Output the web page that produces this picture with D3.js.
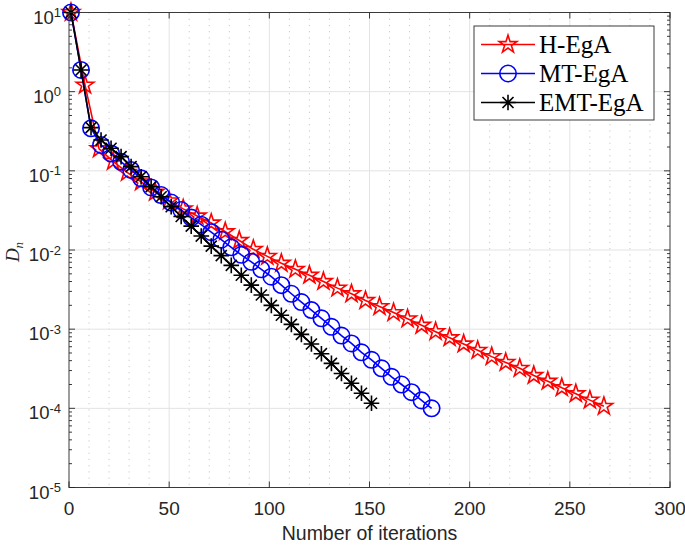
<!DOCTYPE html>
<html>
<head>
<meta charset="utf-8">
<script src="https://cdn.jsdelivr.net/npm/d3@7"></script>
<style>
  body { margin: 0; background: #fff; }
  svg { display: block; }
</style>
</head>
<body>
<div id="chart"></div>
<script>
// データ (反復回数と D_n)
const hIter = [1, 8, 15, 22, 29, 36, 43, 50, 57, 64, 71, 78, 85, 92, 99, 106, 113, 120, 127, 134,
  141, 148, 155, 162, 169, 176, 183, 190, 197, 204, 211, 218, 225, 232, 239, 246, 253, 260, 267];
const hVal = [10, 1.21, 0.19, 0.132, 0.0955, 0.0724, 0.0537, 0.0417, 0.0331, 0.0269, 0.0219, 0.0170,
  0.0132, 0.0102, 8.3e-3, 6.8e-3, 5.7e-3, 4.8e-3, 4.0e-3, 3.3e-3, 2.8e-3, 2.3e-3, 1.93e-3, 1.62e-3,
  1.35e-3, 1.12e-3, 9.3e-4, 7.8e-4, 6.5e-4, 5.4e-4, 4.5e-4, 3.8e-4, 3.2e-4, 2.6e-4, 2.2e-4,
  1.82e-4, 1.53e-4, 1.27e-4, 1.06e-4];

const mtIter = [1, 6, 11, 16, 21, 26, 31, 36, 41, 46, 51, 56, 61, 66, 71, 76, 81, 86, 91, 96,
  101, 106, 111, 116, 121, 126, 131, 136, 141, 146, 151, 156, 161, 166, 171, 176, 181];
const mtVal = [10, 1.88, 0.344, 0.212, 0.166, 0.130, 0.1026, 0.0805, 0.0617, 0.0495, 0.0398, 0.0320,
  0.0257, 0.0209, 0.0168, 0.0135, 0.0108, 8.7e-3, 7.1e-3, 5.7e-3, 4.6e-3, 3.6e-3, 2.8e-3, 2.2e-3,
  1.74e-3, 1.37e-3, 1.07e-3, 8.3e-4, 6.6e-4, 5.1e-4, 4.1e-4, 3.2e-4, 2.5e-4, 2.0e-4, 1.6e-4,
  1.26e-4, 1.0e-4];

const emtIter = [1, 6, 11, 16, 21, 26, 31, 36, 41, 46, 51, 56, 61, 66, 71, 76, 81, 86, 91, 96,
  101, 106, 111, 116, 121, 126, 131, 136, 141, 146, 151];
const emtVal = [10, 1.88, 0.351, 0.245, 0.193, 0.151, 0.113, 0.0843, 0.0631, 0.0471, 0.0352, 0.0265,
  0.020, 0.0150, 0.0112, 8.5e-3, 6.4e-3, 4.8e-3, 3.6e-3, 2.7e-3, 2.0e-3, 1.5e-3, 1.15e-3, 8.6e-4,
  6.5e-4, 4.9e-4, 3.7e-4, 2.75e-4, 2.07e-4, 1.55e-4, 1.16e-4];

const xTicks = [0, 50, 100, 150, 200, 250, 300];
const yExps = [-5, -4, -3, -2, -1, 0, 1];
const legendNames = ["H-EgA", "MT-EgA", "EMT-EgA"];

// 描画領域
const width = 685;
const height = 548;
const L = 69, R = 670, T = 12.5, B = 487.5;
const axisColor = "#262626";

const svg = d3.select("#chart").append("svg")
    .attr("width", width)
    .attr("height", height);
svg.append("rect").attr("width", width).attr("height", height).attr("fill", "#fff");

const x = d3.scaleLinear().domain([0, 300]).range([L, R]);
const y = d3.scaleLog().domain([1e-5, 10]).range([B, T]);

// グリッド
const minorX = d3.range(10, 300, 10).filter(v => v % 50 !== 0);
svg.append("g").selectAll("line").data(minorX).enter().append("line")
    .attr("x1", d => x(d)).attr("x2", d => x(d))
    .attr("y1", T).attr("y2", B)
    .attr("stroke", "#c8c8c8").attr("stroke-width", 1)
    .attr("stroke-dasharray", "1.2,5");
svg.append("g").selectAll("line").data(xTicks.slice(1, -1)).enter().append("line")
    .attr("x1", d => x(d)).attr("x2", d => x(d))
    .attr("y1", T).attr("y2", B)
    .attr("stroke", "#e3e3e3").attr("stroke-width", 1);
svg.append("g").selectAll("line").data(yExps.slice(1, -1)).enter().append("line")
    .attr("x1", L).attr("x2", R)
    .attr("y1", d => y(Math.pow(10, d))).attr("y2", d => y(Math.pow(10, d)))
    .attr("stroke", "#e3e3e3").attr("stroke-width", 1);

// 系列
const series = [
  {iter: hIter, val: hVal, color: "#ff0000", marker: "star"},
  {iter: mtIter, val: mtVal, color: "#0000ff", marker: "circle"},
  {iter: emtIter, val: emtVal, color: "#000000", marker: "asterisk"}
];

function markerPath(type, cx, cy) {
  if (type === "star") {
    const Ro = 9.3, Ri = Ro * 0.382;
    let p = "";
    for (let i = 0; i < 10; i++) {
      const a = -Math.PI / 2 + i * Math.PI / 5;
      const r = i % 2 === 0 ? Ro : Ri;
      p += (i === 0 ? "M" : "L") + (cx + r * Math.cos(a)) + "," + (cy + r * Math.sin(a));
    }
    return p + "Z";
  }
  if (type === "circle") {
    const r = 8.2;
    return `M${cx - r},${cy}a${r},${r} 0 1,0 ${2 * r},0a${r},${r} 0 1,0 ${-2 * r},0Z`;
  }
  const s = 7.8, d = s * 0.7071;
  return `M${cx - s},${cy}L${cx + s},${cy}M${cx},${cy - s}L${cx},${cy + s}` +
         `M${cx - d},${cy - d}L${cx + d},${cy + d}M${cx - d},${cy + d}L${cx + d},${cy - d}`;
}

const line = d3.line().x(d => x(d[0])).y(d => y(d[1]));

series.forEach(s => {
  const pts = s.iter.map((it, i) => [it, s.val[i]]);
  const g = svg.append("g");
  g.append("path")
      .attr("d", line(pts))
      .attr("fill", "none")
      .attr("stroke", s.color)
      .attr("stroke-width", 1.6);
  g.selectAll("path.mk").data(pts).enter().append("path")
      .attr("class", "mk")
      .attr("d", d => markerPath(s.marker, x(d[0]), y(d[1])))
      .attr("fill", "none")
      .attr("stroke", s.color)
      .attr("stroke-width", 1.6)
      .attr("stroke-linejoin", "miter");
});

// 軸の枠と目盛り
svg.append("rect")
    .attr("x", L).attr("y", T).attr("width", R - L).attr("height", B - T)
    .attr("fill", "none").attr("stroke", axisColor).attr("stroke-width", 0.9);

const ticks = svg.append("g").attr("stroke", axisColor).attr("stroke-width", 0.9);
xTicks.forEach(v => {
  ticks.append("line").attr("x1", x(v)).attr("x2", x(v)).attr("y1", B).attr("y2", B - 6);
  ticks.append("line").attr("x1", x(v)).attr("x2", x(v)).attr("y1", T).attr("y2", T + 6);
});
yExps.forEach(e => {
  const yy = y(Math.pow(10, e));
  ticks.append("line").attr("x1", L).attr("x2", L + 6).attr("y1", yy).attr("y2", yy);
  ticks.append("line").attr("x1", R).attr("x2", R - 6).attr("y1", yy).attr("y2", yy);
  if (e < 1) {
    for (let m = 2; m <= 9; m++) {
      const ym = y(m * Math.pow(10, e));
      ticks.append("line").attr("x1", L).attr("x2", L + 3).attr("y1", ym).attr("y2", ym);
      ticks.append("line").attr("x1", R).attr("x2", R - 3).attr("y1", ym).attr("y2", ym);
    }
  }
});

// 目盛りラベル
const tickFont = "Liberation Sans, Arial, sans-serif";
svg.append("g").selectAll("text").data(xTicks).enter().append("text")
    .attr("x", d => x(d))
    .attr("y", B + 27)
    .attr("text-anchor", "middle")
    .attr("font-family", tickFont)
    .attr("font-size", 19)
    .attr("fill", axisColor)
    .text(d => d);

const yl = svg.append("g").selectAll("text").data(yExps).enter().append("text")
    .attr("x", 61)
    .attr("y", d => y(Math.pow(10, d)) + 11)
    .attr("text-anchor", "end")
    .attr("font-family", tickFont)
    .attr("font-size", 18.5)
    .attr("fill", axisColor);
yl.append("tspan").text("10");
yl.append("tspan").attr("dy", -6.5).attr("font-size", 13).text(d => d);

// 軸ラベル
svg.append("text")
    .attr("x", (L + R) / 2)
    .attr("y", 540)
    .attr("text-anchor", "middle")
    .attr("font-family", tickFont)
    .attr("font-size", 19.5)
    .attr("fill", axisColor)
    .text("Number of iterations");

const yLab = svg.append("text")
    .attr("transform", "translate(19,252) rotate(-90)")
    .attr("text-anchor", "middle")
    .attr("font-family", "Liberation Serif, Times New Roman, serif")
    .attr("font-style", "italic")
    .attr("font-size", 19)
    .attr("fill", axisColor);
yLab.append("tspan").text("D");
yLab.append("tspan").attr("dy", 4).attr("font-size", 13).text("n");

// 凡例
const lg = svg.append("g");
lg.append("rect")
    .attr("x", 474).attr("y", 26).attr("width", 180).attr("height", 94)
    .attr("fill", "#fff").attr("stroke", axisColor).attr("stroke-width", 0.9);
series.forEach((s, i) => {
  const ly = 44.5 + i * 29;
  lg.append("line")
      .attr("x1", 481).attr("x2", 535).attr("y1", ly).attr("y2", ly)
      .attr("stroke", s.color).attr("stroke-width", 1.6);
  lg.append("path")
      .attr("d", markerPath(s.marker, 508, ly))
      .attr("fill", "none").attr("stroke", s.color).attr("stroke-width", 1.6);
  lg.append("text")
      .attr("x", 539).attr("y", ly + 8.5)
      .attr("font-family", "Liberation Serif, Times New Roman, serif")
      .attr("font-size", 25)
      .attr("fill", "#000")
      .text(legendNames[i]);
});
</script>
</body>
</html>
